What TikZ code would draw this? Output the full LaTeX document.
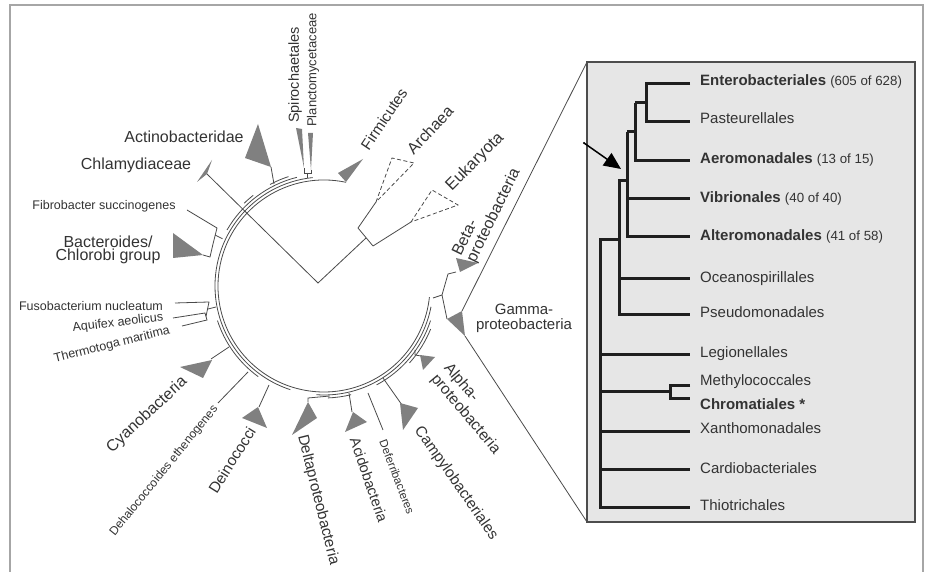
\documentclass[tikz,border=0pt]{standalone}
\usepackage{fontspec}
\setmainfont{Liberation Sans}
\usetikzlibrary{arrows.meta}
\definecolor{txtc}{HTML}{333333}
\definecolor{linec}{HTML}{4A4A4A}
\definecolor{trig}{HTML}{808080}
\definecolor{boxfill}{HTML}{E6E6E6}
\definecolor{boxline}{HTML}{4D4D4D}
\definecolor{framec}{HTML}{A6A6A6}
\newcommand\FBig{\fontsize{16}{13.5}\selectfont}
\newcommand\FMed{\fontsize{15.3}{16}\selectfont}
\newcommand\FSm{\fontsize{12.5}{13}\selectfont}
\newcommand\FTy{\fontsize{11.5}{12}\selectfont}
\newcommand\FBx{\fontsize{15}{16}\selectfont}
\newcommand\FPar{\fontsize{13.3}{14}\selectfont}
\begin{document}
\begin{tikzpicture}[x=1pt,y=1pt,
  lbl/.style={text=txtc, inner sep=0pt, font=\FBig},
  tri/.style={fill=trig},
  br/.style={draw=linec, line width=0.8pt},
  dsh/.style={draw=linec, line width=0.8pt, dash pattern=on 4pt off 2.5pt},
  bxl/.style={draw=black!88, line width=3pt},
  bxt/.style={text=txtc, inner sep=0pt, anchor=base west, font=\FBx},
  zl/.style={draw=linec, line width=0.8pt}]
\useasboundingbox (0,0) rectangle (928,572);
\begin{scope}[shift={(0,572)}]
% outer frame
\draw[framec, line width=1.5pt] (10,-572) -- (10,-5) -- (923,-5) -- (923,-572);
% zoom lines and box
\coordinate (btl) at (587,-62);
\coordinate (bbl) at (587,-522);
\coordinate (gtop) at (462,-311);
\coordinate (gbot) at (465,-336);
\draw[zl] (btl) -- (gtop);
\draw[zl] (gbot) -- (bbl);
\draw[fill=boxfill, draw=boxline, line width=1.5pt] (btl) rectangle (915,-522);

% ---------- circular tree ----------
\coordinate (C) at (324,-286);
\draw[br] (C) ++(78:106) arc[start angle=78, end angle=354, radius=106];
\foreach \r/\a/\b in {109/96/252, 112/104/150, 115/108/118, 115/128/134, 112/198/234, 109/266/349, 112/298/342, 115/318/338, 112/272/284}{
  \draw[br] (C) ++(\a:\r) arc[start angle=\a, end angle=\b, radius=\r];
}
% root and stems
\draw[br] (207,-174) -- (318,-283) -- (366,-238);
\draw[br] (358,-228) -- (373,-246);
\draw[br] (358,-228) -- (376,-202);
\draw[br] (373,-246) -- (411,-222);
\draw[dsh] (376,-202) -- (392,-158) -- (414,-163) -- cycle;
\draw[dsh] (411,-222) -- (432,-190) -- (458,-205) -- cycle;
\draw[br] (304,-168) -- (304,-173) -- (311,-173) -- (311,-170);
\draw[br] (307.5,-173) -- (307.5,-178);
\draw[br] (271,-167) -- (274,-184);
\draw[br] (187,-210) -- (217,-228) -- (213,-244) -- (210,-257) -- (203,-255);
\draw[br] (215,-235) -- (222.5,-238.7);
\draw[br] (175,-303) -- (209,-302) -- (206,-316.5);
\draw[br] (173,-318) -- (205,-313) -- (207,-320) -- (182,-326);
\draw[br] (208,-309) -- (216,-307);
\draw[br] (211,-359) -- (229,-347);
\draw[br] (218,-403) -- (248,-372);
\draw[br] (259,-407) -- (269,-385);
\draw[br] (308,-402) -- (308,-398) -- (330,-396);
\draw[br] (349,-393) -- (352,-412);
\draw[br] (368,-393) -- (383,-430);
\draw[br] (383,-378) -- (402,-405);
\draw[br] (415,-350) -- (415,-355) -- (421,-356);
\draw[br] (433,-298) -- (442,-295) -- (448,-274) -- (456,-272);
\draw[br] (442,-295) -- (447,-319);
% collapsed clades
\fill[tri] (258,-124) -- (245,-158) -- (271,-167) -- cycle;
\fill[tri] (212,-160) -- (197,-182) -- (207,-174) -- cycle;
\fill[tri] (296,-128) -- (302,-129) -- (304,-168) -- cycle;
\fill[tri] (308,-133) -- (313,-133) -- (311,-170) -- cycle;
\fill[tri] (338,-173) -- (363,-159) -- (346,-182) -- cycle;
\fill[tri] (173,-233) -- (173,-258) -- (203,-255) -- cycle;
\fill[tri] (180,-367) -- (212,-360) -- (203,-378) -- cycle;
\fill[tri] (242,-418) -- (258,-407) -- (267,-428) -- cycle;
\fill[tri] (292,-435) -- (308,-402) -- (317,-418) -- cycle;
\fill[tri] (345,-432) -- (353,-412) -- (367,-422) -- cycle;
\fill[tri] (400,-403) -- (418,-408) -- (403,-430) -- cycle;
\fill[tri] (420,-355) -- (435,-357) -- (423,-370) -- cycle;
\fill[tri] (447,-319) -- (gtop) -- (gbot) -- cycle;
\fill[tri] (456,-258) -- (478,-263) -- (460,-272) -- cycle;

% labels
\node[lbl] (actino) at (184,-137) {Actinobacteridae};
\node[lbl] (chlamy) at (136,-165) {Chlamydiaceae};
\node[lbl, font=\FSm] (fibro) at (104,-206) {Fibrobacter succinogenes};
\node[lbl, align=center] (bact) at (108,-250) {Bacteroides/\\Chlorobi group};
\node[lbl, font=\FSm] (fuso) at (91,-306) {Fusobacterium nucleatum};
\node[lbl, font=\FSm, rotate=7] (aqui) at (118,-323) {Aquifex aeolicus};
\node[lbl, font=\FSm, rotate=14] (thermo) at (112,-345) {Thermotoga maritima};
\node[lbl, rotate=43] (cyano) at (147,-415) {Cyanobacteria};
\node[lbl, font=\fontsize{12}{12}\selectfont, rotate=51] (dehalo) at (164,-471) {Dehalococcoides ethenogenes};
\node[lbl, font=\FMed, rotate=58] (deino) at (232,-460) {Deinococci};
\node[lbl, font=\FMed, rotate=-76] (delta) at (318,-500) {Deltaproteobacteria};
\node[lbl, font=\fontsize{14.6}{15}\selectfont, rotate=-71] (acido) at (369,-480) {Acidobacteria};
\node[lbl, font=\FTy, rotate=-69] (deferri) at (397,-477) {Deferribacteres};
\node[lbl, font=\FMed, rotate=-55] (campy) at (456,-483) {Campylobacteriales};
\node[lbl, font=\fontsize{15.5}{17}\selectfont, rotate=-50, align=left] (alpha) at (472,-409) {Alpha-\\proteobacteria};
\node[lbl, font=\fontsize{15}{15}\selectfont, align=center] (gamma) at (524,-318) {Gamma-\\proteobacteria};
\node[lbl, font=\fontsize{16}{16}\selectfont, rotate=64, align=left] (beta) at (487,-212.5) {Beta-\\proteobacteria};
\node[lbl, font=\FMed, rotate=56] (firm) at (384,-119) {Firmicutes};
\node[lbl, rotate=47] (arch) at (430,-130) {Archaea};
\node[lbl, font=\fontsize{16.5}{17}\selectfont, rotate=45] (euk) at (475,-162) {Eukaryota};
\node[lbl, font=\fontsize{14.5}{15}\selectfont, rotate=90] (spiro) at (295,-75) {Spirochaetales};
\node[lbl, font=\fontsize{13}{13}\selectfont, rotate=90] (plancto) at (313,-70) {Planctomycetaceae};

% ---------- gamma-proteobacteria tree in the box ----------
\draw[bxl] (690,-84) -- (646,-84) -- (646,-122) -- (690,-122);
\draw[bxl] (646,-103) -- (635,-103);
\draw[bxl] (635,-103) -- (635,-161) -- (690,-161);
\draw[bxl] (635,-132) -- (627,-132);
\draw[bxl] (627,-132) -- (627,-237) -- (690,-237);
\draw[bxl] (627,-199) -- (690,-199);
\draw[bxl] (627,-181) -- (619,-181) -- (619,-315) -- (690,-315);
\draw[bxl] (619,-279) -- (690,-279);
\draw[bxl] (619,-240) -- (600,-240) -- (600,-508) -- (690,-508);
\draw[bxl] (600,-355) -- (690,-355);
\draw[bxl] (600,-392) -- (670,-392);
\draw[bxl] (690,-386) -- (670,-386) -- (670,-399) -- (690,-399);
\draw[bxl] (600,-432) -- (690,-432);
\draw[bxl] (600,-470) -- (690,-470);
\coordinate (arS) at (584,-143);
\coordinate (arE) at (621,-169);
\fill[black] (arS) circle (1.1pt);
\draw[line width=1.5pt, -{Triangle[length=17pt,width=15pt]}] (arS) -- (arE);

\node[bxt] (ent) at (700,-85.5) {\textbf{Enterobacteriales} {\FPar(605 of 628)}};
\node[bxt] (pas) at (700,-123.5) {Pasteurellales};
\node[bxt] (aer) at (700,-163.5) {\textbf{Aeromonadales} {\FPar(13 of 15)}};
\node[bxt] (vib) at (700,-202.5) {\textbf{Vibrionales} {\FPar(40 of 40)}};
\node[bxt] (alt) at (700,-240.5) {\textbf{Alteromonadales} {\FPar(41 of 58)}};
\node[bxt] (oce) at (700,-282.5) {Oceanospirillales};
\node[bxt] (pse) at (700,-317.5) {Pseudomonadales};
\node[bxt] (leg) at (700,-357.5) {Legionellales};
\node[bxt] (met) at (700,-385.5) {Methylococcales};
\node[bxt] (chr) at (700,-409.5) {\textbf{Chromatiales *}};
\node[bxt] (xan) at (700,-433.5) {Xanthomonadales};
\node[bxt] (car) at (700,-473.5) {Cardiobacteriales};
\node[bxt] (thi) at (700,-510.5) {Thiotrichales};
\end{scope}
\end{tikzpicture}
\end{document}
